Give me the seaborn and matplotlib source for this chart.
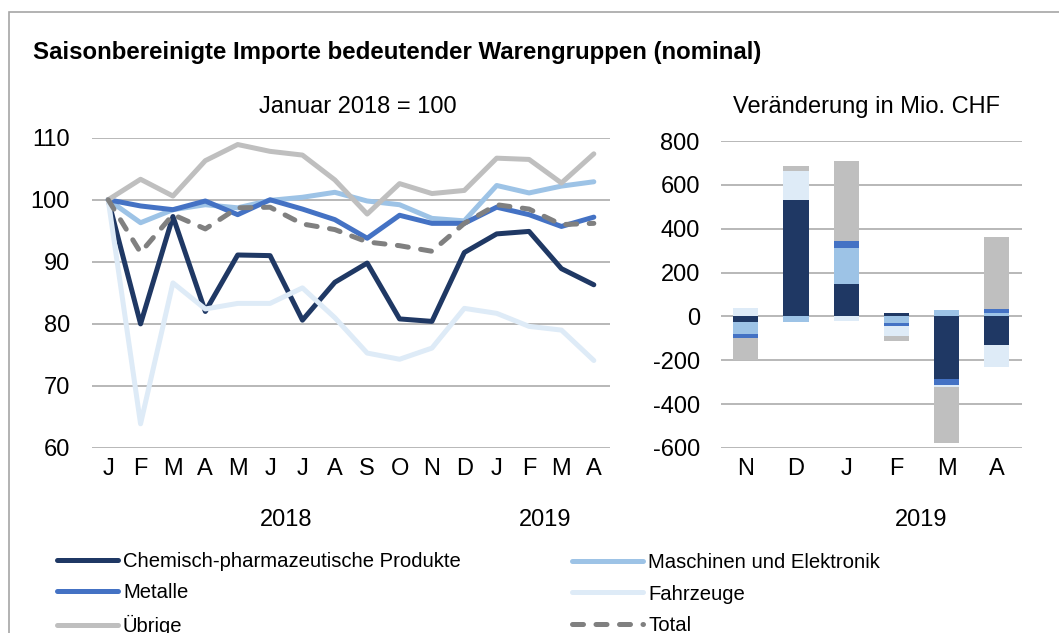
import numpy as np
import pandas as pd
import seaborn as sns
import matplotlib
matplotlib.use("Agg")
import matplotlib.pyplot as plt
from matplotlib.patches import Rectangle
from matplotlib.lines import Line2D
from matplotlib.transforms import blended_transform_factory

# Monatsachse links (Jan 2018 - Apr 2019)
months = ["J", "F", "M", "A", "M", "J", "J", "A", "S", "O", "N", "D", "J", "F", "M", "A"]

# Index Januar 2018 = 100
chem = [100, 80.0, 97.3, 82.0, 91.1, 91.0, 80.6, 86.7, 89.8, 80.8, 80.4, 91.5, 94.5, 94.9, 88.9, 86.3]
masch = [100, 96.3, 98.4, 99.2, 98.7, 99.9, 100.4, 101.2, 99.8, 99.2, 97.0, 96.6, 102.3, 101.1, 102.2, 102.9]
metalle = [100, 99.0, 98.4, 99.8, 97.6, 100.0, 98.5, 96.8, 93.8, 97.5, 96.2, 96.2, 98.8, 97.6, 95.7, 97.2]
fahrzeuge = [100, 63.9, 86.6, 82.4, 83.3, 83.3, 85.8, 81.0, 75.3, 74.3, 76.1, 82.5, 81.7, 79.6, 79.0, 74.1]
uebrige = [100, 103.3, 100.6, 106.3, 108.9, 107.8, 107.2, 103.2, 97.7, 102.6, 101.0, 101.5, 106.7, 106.5, 102.7, 107.4]
total = [100, 91.5, 97.6, 95.3, 98.7, 98.8, 96.1, 95.2, 93.2, 92.6, 91.7, 96.2, 99.2, 98.5, 96.0, 96.2]

# Veraenderung in Mio. CHF (Nov 2018 - Apr 2019)
bar_months = ["N", "D", "J", "F", "M", "A"]
d_chem = [-26, 530, 147, 15, -286, -129]
d_masch = [-56, -26, 163, -29, 30, 17]
d_metalle = [-18, 0, 35, -14, -26, 18]
d_fahrzeuge = [38, 131, -20, -46, -12, -100]
d_uebrige = [-97, 23, 365, -21, -254, 329]

names = ["Chemisch-pharmazeutische Produkte", "Maschinen und Elektronik", "Metalle",
         "Fahrzeuge", "Übrige", "Total"]
colors = ["#1F3864", "#9DC3E6", "#4472C4", "#DEEBF7", "#BFBFBF", "#808080"]

sns.set_theme(style="white")
plt.rcParams["font.family"] = ["Liberation Sans", "DejaVu Sans"]
plt.rcParams["axes.unicode_minus"] = False
plt.rcParams["text.color"] = "black"

W, H = 1059, 633
fig = plt.figure(figsize=(W / 100, H / 100), dpi=100)

ax1 = fig.add_axes([92 / W, 1 - 448 / H, (610 - 92) / W, (448 - 137.7) / H])
ax2 = fig.add_axes([720.7 / W, 1 - 448 / H, (1022 - 720.7) / W, (448 - 141) / H])

grid_c = "#ABABAB"
lw = 3.6
x = np.arange(len(months))
series = [chem, masch, metalle, fahrzeuge, uebrige]
for vals, c in zip(series, colors[:5]):
    sns.lineplot(x=x, y=vals, ax=ax1, color=c, lw=lw, solid_capstyle="round",
                 solid_joinstyle="round", legend=False)
sns.lineplot(x=x, y=total, ax=ax1, color=colors[5], lw=lw, linestyle=(0, (2.2, 2.5)),
             dash_capstyle="round", legend=False)

ax1.set_xlim(-0.5, len(months) - 0.5)
ax1.set_ylim(60, 110)
ax1.set_yticks(range(60, 111, 10))
ax1.set_xticks(x)
ax1.set_xticklabels(months)

# gestapelte Balken, positive und negative getrennt
bx = np.arange(len(bar_months))
pos_base = np.zeros(len(bar_months))
neg_base = np.zeros(len(bar_months))
for vals, c in zip([d_chem, d_masch, d_metalle, d_fahrzeuge, d_uebrige], colors[:5]):
    v = np.array(vals, dtype=float)
    base = np.where(v >= 0, pos_base, neg_base)
    ax2.bar(bx, v, bottom=base, width=0.5, color=c, zorder=3, linewidth=0)
    pos_base = pos_base + np.where(v > 0, v, 0)
    neg_base = neg_base + np.where(v < 0, v, 0)

ax2.set_xlim(-0.5, len(bar_months) - 0.5)
ax2.set_ylim(-600, 800)
ax2.set_yticks(range(-600, 801, 200))
ax2.set_xticks(bx)
ax2.set_xticklabels(bar_months)

for ax in (ax1, ax2):
    sns.despine(ax=ax, left=True, bottom=True)
    ax.grid(axis="y", color=grid_c, lw=1.2, zorder=0)
    ax.grid(axis="x", visible=False)
    ax.set_axisbelow(True)
    ax.tick_params(axis="both", length=0, labelsize=17, colors="black")
    ax.tick_params(axis="x", pad=7)
ax1.tick_params(axis="y", pad=16)
ax2.tick_params(axis="y", pad=15)

# Jahresbeschriftungen
yr_y = 1 - 520 / H
t1 = blended_transform_factory(ax1.transData, fig.transFigure)
ax1.text(5.5, yr_y, "2018", transform=t1, ha="center", va="center", fontsize=17)
ax1.text(13.5, yr_y, "2019", transform=t1, ha="center", va="center", fontsize=17)
t2 = blended_transform_factory(ax2.transData, fig.transFigure)
ax2.text(3.5, yr_y, "2019", transform=t2, ha="center", va="center", fontsize=17)

# Titel
fig.text(33 / W, 1 - 52 / H, "Saisonbereinigte Importe bedeutender Warengruppen (nominal)",
         fontsize=17.3, fontweight="bold", ha="left", va="center")
fig.text(358 / W, 1 - 107 / H, "Januar 2018 = 100", fontsize=17, ha="center", va="center")
fig.text(866.7 / W, 1 - 107 / H, "Veränderung in Mio. CHF", fontsize=17, ha="center", va="center")

# Rahmen
fig.add_artist(Rectangle((9 / W, -0.1), 1.2, 1 - 12 / H + 0.1, transform=fig.transFigure,
                         fill=False, ec="#A6A6A6", lw=1.2))

# Legende
def handle(i):
    if i == 5:
        return Line2D([], [], color=colors[i], lw=lw, linestyle=(0, (2.2, 2.5)),
                      dash_capstyle="round")
    return Line2D([], [], color=colors[i], lw=lw, solid_capstyle="round")

leg_kw = dict(loc="center left", frameon=False, fontsize=14.6, borderpad=0,
              borderaxespad=0, handletextpad=0.25, labelspacing=0.62, labelcolor="black")
fig.legend([handle(0), handle(2), handle(4)], [names[0], names[2], names[4]],
           bbox_to_anchor=(57 / W, 1 - 594 / H), handlelength=3.0, **leg_kw)
fig.legend([handle(1), handle(3), handle(5)], [names[1], names[3], names[5]],
           bbox_to_anchor=(572 / W, 1 - 594 / H), handlelength=3.5, **leg_kw)

fig.savefig("out.png", dpi=100)
